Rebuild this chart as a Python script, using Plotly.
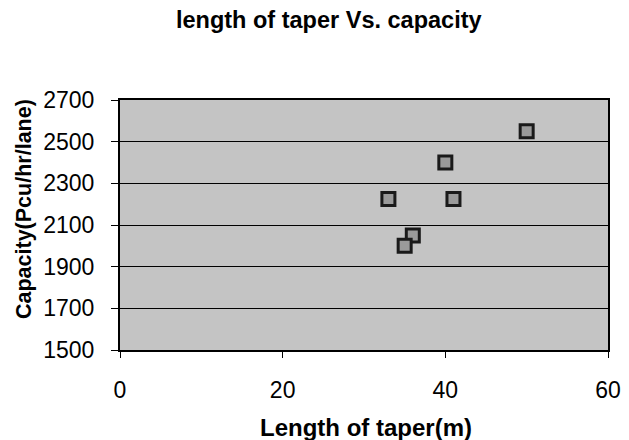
import plotly.graph_objects as go

taper_length = [50, 40, 33, 41, 36, 35]
capacity = [2550, 2400, 2225, 2225, 2050, 2000]

x_ticks = [0, 20, 40, 60]
y_ticks = [1500, 1700, 1900, 2100, 2300, 2500, 2700]

title_text = "length of taper Vs. capacity"
x_title = "Length of taper(m)"
y_title = "Capacity(Pcu/hr/lane)"

font = "Liberation Sans, Arial, sans-serif"

fig = go.Figure()
fig.add_trace(go.Scatter(
    x=taper_length, y=capacity, mode="markers",
    marker=dict(symbol="square", size=13, color="#9a9a9a",
                line=dict(color="#1a1a1a", width=3)),
    showlegend=False,
))

fig.update_layout(
    width=629, height=440,
    margin=dict(l=112, r=29, t=92, b=98),
    paper_bgcolor="white",
    plot_bgcolor="#c4c4c4",
    font=dict(family=font, color="black", size=23),
    title=dict(text=f"<b>{title_text}</b>", x=0.51, xanchor="center",
               y=0.973, yanchor="middle", font=dict(size=23.5)),
    annotations=[
        dict(text=f"<b>{x_title}</b>", xref="paper", yref="paper", x=0.504, y=0,
             xanchor="center", yanchor="middle", yshift=-77, showarrow=False,
             font=dict(size=24)),
        dict(text=f"<b>{y_title}</b>", xref="paper", yref="paper", x=0, y=0.564,
             xanchor="center", yanchor="middle", xshift=-96, textangle=-90,
             showarrow=False, font=dict(size=21.5)),
    ],
)
fig.update_xaxes(
    range=[0, 60], tickvals=x_ticks, showgrid=False, zeroline=False,
    showline=True, linecolor="black", linewidth=2, mirror=True,
    ticks="outside", ticklen=6, tickcolor="black", ticklabelstandoff=12,
    tickfont=dict(size=23),
)
fig.update_yaxes(
    range=[1500, 2700], tickvals=y_ticks, showgrid=True, gridcolor="black",
    gridwidth=1, zeroline=False,
    showline=True, linecolor="black", linewidth=2, mirror=True,
    ticks="outside", ticklen=7, tickcolor="black", ticklabelstandoff=12,
    tickfont=dict(size=23),
)

fig.write_html("out.html")
